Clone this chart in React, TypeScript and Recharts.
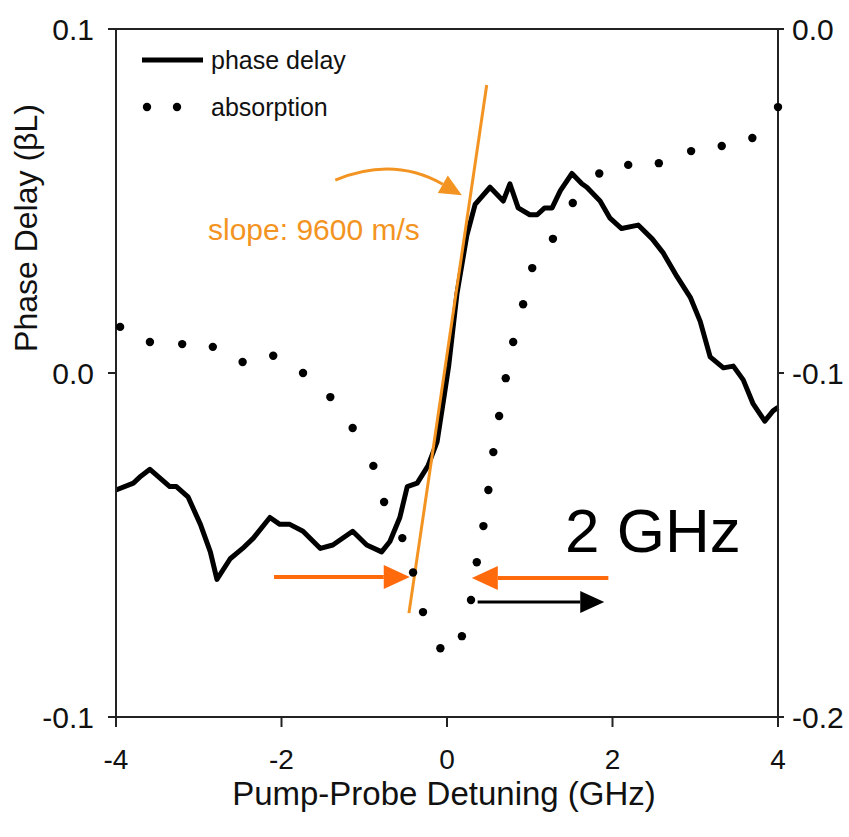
import React from "react";
import { LineChart, Line, XAxis, YAxis, ReferenceLine } from "recharts";

// phase delay (left axis, βL) vs pump-probe detuning (GHz)
const phaseX = [
  -4.0, -3.79, -3.7, -3.59, -3.35, -3.27, -3.13, -2.98, -2.86, -2.78, -2.62, -2.47, -2.34, -2.14, -2.02, -1.9,
  -1.74, -1.53, -1.38, -1.14, -0.97, -0.79, -0.69, -0.57, -0.48, -0.36, -0.23, -0.12, -0.03, 0.02, 0.12, 0.24,
  0.34, 0.52, 0.68, 0.76, 0.86, 1.0, 1.09, 1.18, 1.27, 1.37, 1.51, 1.63, 1.69, 1.85, 1.97, 2.11, 2.31, 2.48,
  2.61, 2.78, 2.94, 3.06, 3.18, 3.34, 3.46, 3.58, 3.7, 3.84, 3.94, 4.0,
];
const phaseY = [
  -0.034, -0.032, -0.03, -0.028, -0.033, -0.033, -0.036, -0.044, -0.052, -0.06, -0.054, -0.051, -0.048, -0.042,
  -0.044, -0.044, -0.046, -0.051, -0.05, -0.046, -0.05, -0.052, -0.049, -0.042, -0.033, -0.032, -0.027, -0.02,
  -0.006, 0.002, 0.023, 0.04, 0.049, 0.054, 0.05, 0.055, 0.048, 0.046, 0.046, 0.048, 0.048, 0.053, 0.058, 0.055,
  0.054, 0.05, 0.045, 0.042, 0.043, 0.039, 0.035, 0.028, 0.022, 0.015, 0.0047, 0.0015, 0.002, -0.002, -0.009,
  -0.014, -0.011, -0.01,
];

// absorption (right axis)
const absX = [
  -3.95, -3.59, -3.2, -2.83, -2.47, -2.1, -1.74, -1.41, -1.14, -0.89, -0.76, -0.54, -0.41, -0.29, -0.08, 0.18,
  0.29, 0.36, 0.44, 0.5, 0.56, 0.63, 0.71, 0.8, 0.92, 1.03, 1.28, 1.52, 1.84, 2.19, 2.56, 2.95, 3.32, 3.69, 4.0,
];
const absY = [
  -0.0866, -0.091, -0.0916, -0.0924, -0.0968, -0.095, -0.1, -0.107, -0.116, -0.127, -0.1375, -0.148, -0.158,
  -0.1695, -0.18, -0.1765, -0.166, -0.155, -0.1445, -0.134, -0.123, -0.1125, -0.1015, -0.091, -0.08, -0.0695,
  -0.061, -0.0506, -0.042, -0.0395, -0.039, -0.0355, -0.034, -0.0317, -0.0227,
];

const xTicks = [-4, -2, 0, 2, 4];
const leftTicks = [-0.1, 0, 0.1];
const rightTicks = [-0.2, -0.1, 0];

const phaseData = phaseX.map((x, i) => ({ x, phase: phaseY[i] }));
const absData = absX.map((x, i) => ({ x, absorption: absY[i] }));

const FONT = "Arial, 'Liberation Sans', Helvetica, sans-serif";
const ORANGE = "#F39422";
const RED_ORANGE = "#FF6A0D";

function arrowShape(color: string, width: number, headL: number, headW: number) {
  return (p: any) => {
    const { x1, y1, x2, y2 } = p;
    const a = Math.atan2(y2 - y1, x2 - x1);
    const bx = x2 - headL * Math.cos(a);
    const by = y2 - headL * Math.sin(a);
    const nx = -Math.sin(a) * headW;
    const ny = Math.cos(a) * headW;
    return (
      <g>
        <line x1={x1} y1={y1} x2={bx} y2={by} stroke={color} strokeWidth={width} />
        <polygon points={`${x2},${y2} ${bx + nx},${by + ny} ${bx - nx},${by - ny}`} fill={color} />
      </g>
    );
  };
}

function curvedArrow(p: any) {
  const { x1, y1, x2, y2 } = p;
  const cx = (x1 + x2) / 2 - 5;
  const cy = Math.min(y1, y2) - 24;
  const a = Math.atan2(y2 - cy, x2 - cx);
  const headL = 22;
  const headW = 10;
  const bx = x2 - headL * Math.cos(a);
  const by = y2 - headL * Math.sin(a);
  const nx = -Math.sin(a) * headW;
  const ny = Math.cos(a) * headW;
  return (
    <g>
      <path d={`M${x1},${y1} Q${cx},${cy} ${bx},${by}`} stroke={ORANGE} strokeWidth={3} fill="none" />
      <polygon points={`${x2},${y2} ${bx + nx},${by + ny} ${bx - nx},${by - ny}`} fill={ORANGE} />
    </g>
  );
}

export default function App() {
  return (
    <div style={{ position: "fixed", left: 0, top: 0, width: 849, height: 837, background: "#fff" }}>
      <LineChart width={849} height={837} margin={{ top: 29, right: 0, bottom: 0, left: 0 }}>
        <XAxis
          type="number"
          dataKey="x"
          domain={[-4, 4]}
          ticks={xTicks}
          height={120}
          tickSize={10}
          tickMargin={22}
          stroke="#222"
          strokeWidth={2}
          tick={{ fill: "#111", fontSize: 28, fontFamily: FONT }}
          allowDuplicatedCategory={false}
        />
        <YAxis
          yAxisId="left"
          domain={[-0.1, 0.1]}
          ticks={leftTicks}
          width={116}
          tickSize={8}
          tickMargin={14}
          stroke="#222"
          strokeWidth={2}
          tickFormatter={(v: number) => v.toFixed(1)}
          tick={{ fill: "#111", fontSize: 30, fontFamily: FONT }}
        />
        <YAxis
          yAxisId="right"
          orientation="right"
          domain={[-0.2, 0]}
          ticks={rightTicks}
          width={71}
          tickSize={6}
          tickMargin={8}
          stroke="#222"
          strokeWidth={2}
          tickFormatter={(v: number) => v.toFixed(1)}
          tick={{ fill: "#111", fontSize: 30, fontFamily: FONT }}
        />
        <ReferenceLine yAxisId="left" y={0.1} stroke="#222" strokeWidth={2} />
        <Line
          yAxisId="right"
          data={absData}
          dataKey="absorption"
          stroke="none"
          dot={{ r: 4.2, fill: "#000", stroke: "none" }}
          isAnimationActive={false}
        />
        <Line
          yAxisId="left"
          data={phaseData}
          dataKey="phase"
          type="linear"
          stroke="#000"
          strokeWidth={5}
          strokeLinejoin="round"
          dot={false}
          isAnimationActive={false}
        />
        <ReferenceLine
          yAxisId="left"
          segment={[{ x: -0.46, y: -0.0698 }, { x: 0.48, y: 0.0837 }]}
          stroke={ORANGE}
          strokeWidth={3}
        />
        <ReferenceLine
          yAxisId="left"
          segment={[{ x: -1.35, y: 0.0561 }, { x: 0.18, y: 0.0517 }]}
          shape={curvedArrow}
        />
        <ReferenceLine
          yAxisId="left"
          segment={[{ x: -2.09, y: -0.0593 }, { x: -0.45, y: -0.0593 }]}
          shape={arrowShape(RED_ORANGE, 4, 26, 12)}
        />
        <ReferenceLine
          yAxisId="left"
          segment={[{ x: 1.95, y: -0.0596 }, { x: 0.3, y: -0.0596 }]}
          shape={arrowShape(RED_ORANGE, 4, 26, 12)}
        />
        <ReferenceLine
          yAxisId="left"
          segment={[{ x: 0.37, y: -0.0666 }, { x: 1.9, y: -0.0666 }]}
          shape={arrowShape("#000", 3, 24, 11)}
        />
      </LineChart>
      <svg
        width={849}
        height={837}
        style={{ position: "absolute", left: 0, top: 0, pointerEvents: "none" }}
        fontFamily={FONT}
      >
        <line x1={142} y1={60} x2={203} y2={60} stroke="#000" strokeWidth={5} />
        <text x={211} y={69} fontSize={25} fill="#111">phase delay</text>
        <circle cx={147} cy={107} r={4.2} fill="#000" />
        <circle cx={177} cy={107} r={4.2} fill="#000" />
        <text x={211} y={116} fontSize={25} fill="#111">absorption</text>
        <text x={208} y={240} fontSize={30} fill={ORANGE}>slope: 9600 m/s</text>
        <text x={565} y={552} fontSize={62} fill="#000">2 GHz</text>
        <text x={444} y={805} fontSize={33} fill="#111" textAnchor="middle">Pump-Probe Detuning (GHz)</text>
        <text
          x={0}
          y={0}
          fontSize={32}
          fill="#111"
          textAnchor="middle"
          transform="translate(37,228) rotate(-90)"
        >
          Phase Delay (βL)
        </text>
      </svg>
    </div>
  );
}
